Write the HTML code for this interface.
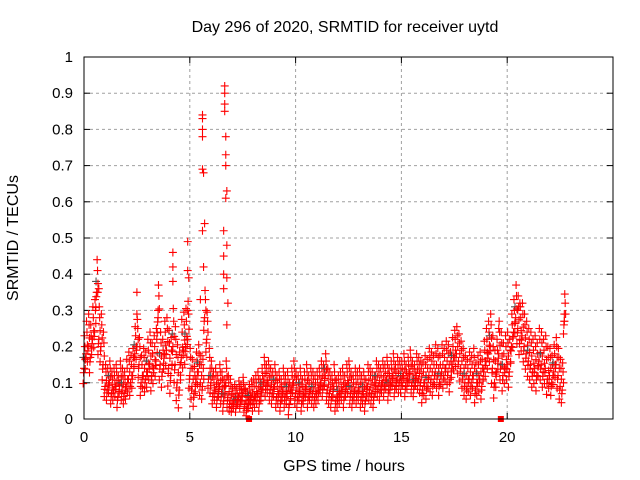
<!DOCTYPE html>
<html><head><meta charset="utf-8"><style>
body{margin:0;background:#fff}
svg{display:block;font-family:"Liberation Sans",sans-serif;font-size:15px}
</style></head><body>
<svg id="chart" width="640" height="480">
<text x="345" y="32" text-anchor="middle" font-size="16">Day 296 of 2020, SRMTID for receiver uytd</text>
<text transform="translate(18,238) rotate(-90)" text-anchor="middle" font-size="16">SRMTID / TECUs</text>
<text x="344" y="471" text-anchor="middle" font-size="16">GPS time / hours</text>
<g id="grid"></g><g id="ticks"></g><g id="marks"></g>
<rect x="84" y="57" width="529" height="362" fill="none" stroke="#000"/>
</svg>
<script>
const xTicks=[0,5,10,15,20];
const yTicks=[0,0.1,0.2,0.3,0.4,0.5,0.6,0.7,0.8,0.9,1];
const yTickLabels=["0","0.1","0.2","0.3","0.4","0.5","0.6","0.7","0.8","0.9","1"];
const startTime=0, stepHours=0.1;
const baseVals=[0.14,0.18,0.20,0.17,0.22,0.24,0.35,0.22,0.20,0.15,
0.09,0.08,0.10,0.07,0.08,0.09,0.06,0.10,0.08,0.07,
0.09,0.11,0.10,0.12,0.18,0.20,0.15,0.10,0.12,0.11,
0.13,0.15,0.12,0.14,0.16,0.28,0.15,0.13,0.18,0.19,
0.14,0.12,0.20,0.15,0.10,0.08,0.17,0.19,0.20,0.22,
0.12,0.09,0.07,0.11,0.13,0.10,0.09,0.28,0.22,0.12,
0.10,0.07,0.08,0.06,0.09,0.07,0.05,0.10,0.06,0.05,
0.04,0.05,0.04,0.06,0.05,0.07,0.04,0.03,0.05,0.06,
0.05,0.06,0.07,0.05,0.08,0.11,0.09,0.10,0.08,0.07,
0.09,0.06,0.07,0.05,0.08,0.06,0.07,0.04,0.08,0.10,
0.07,0.06,0.08,0.05,0.07,0.09,0.06,0.08,0.07,0.06,
0.07,0.08,0.10,0.09,0.12,0.08,0.07,0.06,0.09,0.05,
0.06,0.07,0.08,0.06,0.09,0.10,0.07,0.06,0.08,0.07,
0.08,0.06,0.07,0.05,0.09,0.08,0.07,0.06,0.10,0.09,
0.08,0.10,0.09,0.11,0.08,0.10,0.12,0.09,0.11,0.10,
0.10,0.12,0.09,0.11,0.13,0.10,0.09,0.12,0.11,0.10,
0.08,0.10,0.09,0.12,0.11,0.10,0.13,0.12,0.10,0.13,
0.12,0.14,0.13,0.11,0.15,0.17,0.18,0.16,0.14,0.12,
0.10,0.09,0.11,0.10,0.12,0.08,0.10,0.11,0.09,0.14,
0.16,0.18,0.20,0.14,0.10,0.13,0.18,0.15,0.12,0.14,
0.15,0.13,0.20,0.24,0.28,0.25,0.22,0.23,0.20,0.18,
0.16,0.15,0.13,0.14,0.12,0.16,0.15,0.13,0.14,0.11,
0.12,0.10,0.13,0.15,0.12,0.09,0.08,0.27];
const hourlySpread=[0.06,0.04,0.05,0.06,0.07,0.05,0.04,0.03,0.04,0.04,0.04,0.04,0.04,0.04,0.04,0.04,0.05,0.05,0.05,0.06,0.06,0.06,0.05];
const spikeTimes=[0.65,0.7,2.5,2.5,3.5,4.2,4.2,4.2,4.9,4.9,4.95,4.9,5.6,5.6,5.6,5.6,5.6,5.65,5.7,5.6,5.65,5.5,6.65,6.65,6.65,6.65,6.7,6.7,6.7,6.75,6.7,6.6,6.6,6.6,6.75,6.75,6.8,6.75,6.6,20.6,20.5,22.7,22.7,19.6];
const spikeVals=[0.35,0.36,0.35,0.29,0.30,0.46,0.42,0.38,0.49,0.41,0.39,0.30,0.84,0.83,0.80,0.78,0.69,0.68,0.54,0.52,0.42,0.33,0.92,0.90,0.87,0.85,0.78,0.73,0.70,0.63,0.61,0.52,0.45,0.40,0.48,0.39,0.32,0.26,0.36,0.32,0.30,0.29,0.27,0.25];
const zeroTimes=[7.8,19.7];

const X0=84,X1=613,Y0=419,Y1=57,XMAX=25;
const sx=v=>X0+(v/XMAX)*(X1-X0);
const sy=v=>Y0-v*(Y0-Y1);
const NS="http://www.w3.org/2000/svg";
function mk(tag,attrs,parent){const e=document.createElementNS(NS,tag);for(const k in attrs)e.setAttribute(k,attrs[k]);parent.appendChild(e);return e;}
const grid=document.getElementById('grid'),ticks=document.getElementById('ticks'),marks=document.getElementById('marks');
xTicks.forEach(t=>{
  const x=sx(t);
  if(t>0){const g=mk('line',{x1:x,x2:x,y1:Y1,y2:Y0,stroke:'#a0a0a0','stroke-dasharray':'3,3'},grid);
  
  }
  mk('line',{x1:x,x2:x,y1:Y0,y2:Y0-6,stroke:'#000'},ticks);
  mk('line',{x1:x,x2:x,y1:Y1,y2:Y1+6,stroke:'#000'},ticks);
  const l=mk('text',{x:x,y:Y0+23,'text-anchor':'middle'},ticks);l.textContent=t;
  
  
});
yTicks.forEach((t,i)=>{
  const y=sy(t);
  if(t>0&&t<1){const g=mk('line',{x1:X0,x2:X1,y1:y,y2:y,stroke:'#a0a0a0','stroke-dasharray':'3,3'},grid);
  
  }
  mk('line',{x1:X0,x2:X0+6,y1:y,y2:y,stroke:'#000'},ticks);
  mk('line',{x1:X1,x2:X1-6,y1:y,y2:y,stroke:'#000'},ticks);
  const l=mk('text',{x:X0-11,y:y+5,'text-anchor':'end'},ticks);l.textContent=yTickLabels[i];
  
  
});
function plus(t,v,color){
  const x=sx(t),y=sy(Math.max(0,v));
  const p=mk('path',{d:`M${x-4},${y}h8M${x},${y-4}v8`,stroke:color,'stroke-width':1.1,fill:'none'},marks);
  
  
}
baseVals.forEach((v,i)=>{
  const t=startTime+i*stepHours, s=hourlySpread[Math.min(hourlySpread.length-1,Math.floor(t))];
  if(i%6===0) plus(t-0.03,v+s*0.5,'#505050');
  plus(t,v,'#ff0000');
  plus(t+0.04,v+s,'#ff0000');
  plus(t-0.04,v-s*0.7,'#ff0000');
  plus(t+0.06,v+s*0.4,'#ff0000');
  plus(t-0.02,v-s*0.2,'#ff0000');
  plus(t+0.02,v+s*1.5,'#ff0000');
});
spikeTimes.forEach((t,i)=>plus(t,spikeVals[i],'#ff0000'));
zeroTimes.forEach(t=>{
  const r=mk('rect',{x:sx(t)-3,y:Y0-3,width:6,height:6,fill:'#ff0000'},marks);
  
  
});
</script>
</body></html>
